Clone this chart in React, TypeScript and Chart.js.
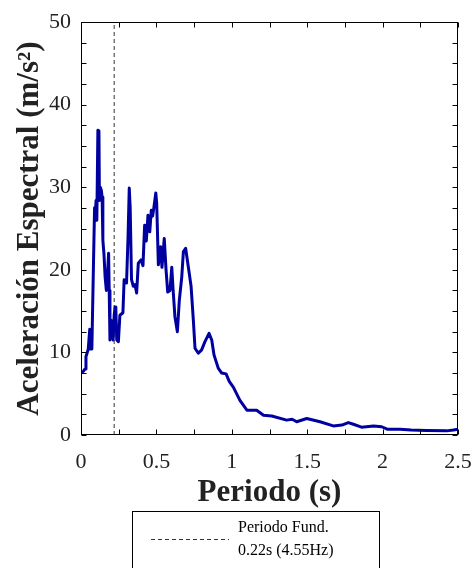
import React, { useEffect, useRef } from 'react';
import { Chart, registerables } from 'chart.js';
Chart.register(...registerables);

const periods = [
  0.000, 0.015, 0.027, 0.033, 0.040, 0.048, 0.053, 0.058, 0.063, 0.072,
  0.082, 0.090, 0.095, 0.100, 0.105, 0.112, 0.119, 0.122, 0.128, 0.135,
  0.140, 0.145, 0.152, 0.160, 0.168, 0.175, 0.183, 0.187, 0.192, 0.199,
  0.206, 0.213, 0.220, 0.226, 0.231, 0.237, 0.248, 0.258, 0.278, 0.286,
  0.302, 0.312, 0.320, 0.326, 0.335, 0.347, 0.358, 0.369, 0.380, 0.398,
  0.411, 0.422, 0.433, 0.444, 0.456, 0.466, 0.475, 0.483, 0.496, 0.502,
  0.513, 0.528, 0.537, 0.552, 0.564, 0.575, 0.590, 0.602, 0.611, 0.623,
  0.639, 0.652, 0.668, 0.679, 0.694, 0.712, 0.730, 0.745, 0.756, 0.778,
  0.800, 0.822, 0.849, 0.867, 0.882, 0.910, 0.933, 0.962, 0.983, 1.010,
  1.054, 1.100, 1.165, 1.210, 1.265, 1.364, 1.400, 1.430, 1.497, 1.585,
  1.673, 1.730, 1.773, 1.806, 1.860, 1.940, 1.994, 2.030, 2.115, 2.190,
  2.290, 2.425, 2.470, 2.500,
];
const accel = [
  7.5, 7.7, 8.0, 9.5, 9.9, 10.4, 10.4, 12.8, 10.4, 10.4,
  20.0, 27.5, 26.8, 28.4, 26.0, 36.9, 36.8, 28.4, 30.0, 29.6,
  28.8, 23.6, 22.0, 19.1, 17.5, 19.1, 22.0, 17.5, 11.5, 13.9,
  12.8, 11.5, 14.5, 15.5, 15.3, 11.5, 11.3, 14.5, 14.8, 18.8,
  18.4, 24.0, 29.9, 27.6, 18.8, 18.0, 18.2, 17.2, 20.8, 21.2,
  20.5, 25.4, 23.5, 26.6, 24.6, 27.2, 26.5, 27.5, 29.3, 28.0,
  20.6, 22.8, 20.3, 23.8, 20.0, 17.3, 17.5, 20.3, 17.5, 14.3,
  12.5, 16.3, 19.1, 22.2, 22.6, 20.3, 18.0, 13.9, 10.5, 9.9,
  10.3, 11.3, 12.3, 11.5, 9.7, 8.1, 7.5, 7.4, 6.5, 5.8,
  4.2, 3.0, 3.0, 2.4, 2.3, 1.8, 1.9, 1.6, 2.0, 1.6,
  1.1, 1.2, 1.5, 1.3, 0.95, 1.1, 1.0, 0.7, 0.7, 0.6,
  0.55, 0.5, 0.6, 0.7,
];
const xTickValues = [0, 0.5, 1, 1.5, 2, 2.5];
const yTickValues = [0, 10, 20, 30, 40, 50];
const fundamentalPeriod = 0.22;
const legendLines = ['Periodo Fund.', '0.22s (4.55Hz)'];
const xTitle = 'Periodo (s)';
const yTitle = 'Aceleración Espectral (m/s²)';

const SERIF = '"Liberation Serif", "Times New Roman", serif';

export default function App() {
  const ref = useRef<HTMLCanvasElement>(null);

  useEffect(() => {
    if (!ref.current) return;

    const framePlugin = {
      id: 'frame',
      afterDraw(chart: any) {
        const { ctx, chartArea: a, scales } = chart;
        const xs = scales.x;
        const ys = scales.y;
        ctx.save();
        ctx.strokeStyle = '#000';
        ctx.lineWidth = 1;
        ctx.setLineDash([]);
        const L = Math.round(a.left) + 0.5;
        const R = Math.round(a.right) - 0.5;
        const T = Math.round(a.top) + 0.5;
        const B = Math.round(a.bottom) - 0.5;
        ctx.strokeRect(L, T, R - L, B - T);
        const tl = 5;
        ctx.beginPath();
        const xMin = xTickValues[0], xMax = xTickValues[xTickValues.length - 1];
        for (let v = xMin; v <= xMax + 1e-9; v += 0.25) {
          const px = Math.round(xs.getPixelForValue(v)) + 0.5;
          ctx.moveTo(px, B); ctx.lineTo(px, B - tl);
          ctx.moveTo(px, T); ctx.lineTo(px, T + tl);
        }
        const yMin = yTickValues[0], yMax = yTickValues[yTickValues.length - 1];
        for (let v = yMin; v <= yMax + 1e-9; v += 2.5) {
          const py = Math.round(ys.getPixelForValue(v)) + 0.5;
          ctx.moveTo(L, py); ctx.lineTo(L + tl, py);
          ctx.moveTo(R, py); ctx.lineTo(R - tl, py);
        }
        ctx.stroke();

        // legend box
        const bx = 132.5, by = 511.5, bw = 247, bh = 80;
        ctx.fillStyle = '#fff';
        ctx.fillRect(bx, by, bw, bh);
        ctx.strokeStyle = '#000';
        ctx.strokeRect(bx, by, bw, bh);
        ctx.strokeStyle = '#333';
        ctx.setLineDash([4, 3]);
        ctx.beginPath();
        ctx.moveTo(151, 539.5);
        ctx.lineTo(229, 539.5);
        ctx.stroke();
        ctx.setLineDash([]);
        ctx.fillStyle = '#000';
        ctx.font = `16px ${SERIF}`;
        ctx.textBaseline = 'middle';
        ctx.textAlign = 'left';
        ctx.fillText(legendLines[0], 238, 528);
        ctx.fillText(legendLines[1], 238, 551);
        ctx.restore();
      },
    };

    const chart = new Chart(ref.current, {
      type: 'line',
      data: {
        datasets: [
          {
            label: 'Espectro',
            data: periods.map((p, i) => ({ x: p, y: accel[i] })),
            borderColor: '#0000a0',
            borderWidth: 3,
            pointRadius: 0,
            tension: 0,
            fill: false,
            borderJoinStyle: 'round',
            borderCapStyle: 'round',
          },
          {
            label: legendLines.join(' '),
            data: [
              { x: fundamentalPeriod, y: yTickValues[0] },
              { x: fundamentalPeriod, y: yTickValues[yTickValues.length - 1] },
            ],
            borderColor: '#333',
            borderWidth: 1,
            borderDash: [4, 3],
            pointRadius: 0,
            fill: false,
          },
        ],
      },
      options: {
        responsive: false,
        animation: false,
        events: [],
        layout: { padding: { left: 0, top: 22, right: 15, bottom: 56 } },
        plugins: {
          legend: { display: false },
          tooltip: { enabled: false },
          title: { display: false },
        },
        scales: {
          x: {
            type: 'linear',
            min: 0,
            max: 2.5,
            grid: { display: false, drawTicks: false },
            border: { display: false },
            afterFit: (s: any) => { s.height = 77; s.paddingRight = 10; s.paddingLeft = 0; },
            afterBuildTicks: (s: any) => { s.ticks = xTickValues.map((v) => ({ value: v })); },
            ticks: {
              color: '#222',
              padding: 14,
              maxRotation: 0,
              font: { family: SERIF, size: 22 },
              callback: (v: any) => String(v),
            },
            title: {
              display: true,
              text: xTitle,
              color: '#222',
              padding: { top: 0, bottom: 0 },
              font: { family: SERIF, size: 31, weight: 'bold' },
            },
          },
          y: {
            type: 'linear',
            min: 0,
            max: 50,
            grid: { display: false, drawTicks: false },
            border: { display: false },
            afterFit: (s: any) => { s.width = 81; s.paddingTop = 0; s.paddingBottom = 0; },
            afterBuildTicks: (s: any) => { s.ticks = yTickValues.map((v) => ({ value: v })); },
            ticks: {
              color: '#222',
              padding: 10,
              font: { family: SERIF, size: 22 },
              callback: (v: any) => String(v),
            },
            title: {
              display: true,
              text: yTitle,
              color: '#222',
              padding: { top: 11, bottom: 0 },
              font: { family: SERIF, size: 31, weight: 'bold' },
            },
          },
        },
      },
      plugins: [framePlugin],
    });

    return () => chart.destroy();
  }, []);

  return (
    <div style={{ position: 'absolute', left: 0, top: 0, width: 473, height: 568, background: '#fff' }}>
      <canvas ref={ref} width={473} height={568} style={{ display: 'block' }} />
    </div>
  );
}
